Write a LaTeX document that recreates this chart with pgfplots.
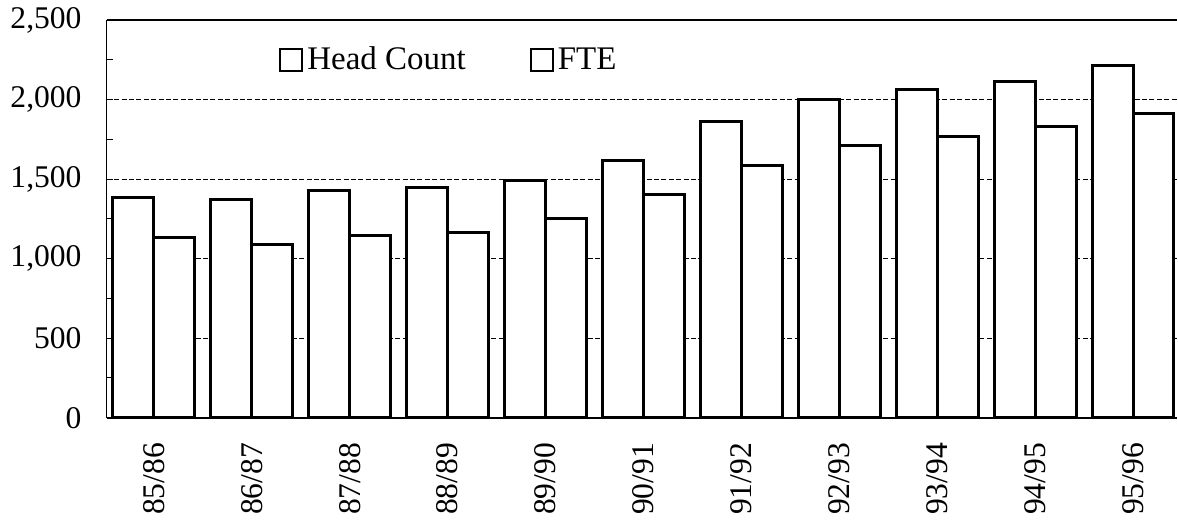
\documentclass[border=0pt]{standalone}
\usepackage{pgfplots}
\pgfplotsset{compat=1.18}
\usepackage{fontspec}
\setmainfont{Liberation Serif}
\begin{document}
\begin{tikzpicture}
\begin{axis}[
  scale only axis,
  width=535.5pt, height=199pt,
  xmin=-0.4796, xmax=10.449,
  ymin=0, ymax=2500,
  axis x line*=bottom, axis y line*=left,
  x axis line style={line width=1pt},
  y axis line style={line width=0.5pt},
  xtick={0,...,10},
  xticklabels={85/86,86/87,87/88,88/89,89/90,90/91,91/92,92/93,93/94,94/95,95/96},
  xtick style={draw=none},
  xticklabel style={rotate=90, anchor=east, inner sep=0pt},
  xticklabel shift=12.5pt,
  ytick={0,500,1000,1500,2000,2500},
  minor ytick={250,750,1250,1750,2250},
  tick align=inside,
  major tick length=3pt, minor tick length=3pt,
  tick style={black, line width=0.5pt},
  yticklabel style={anchor=east, inner sep=0pt},
  yticklabel shift=12.5pt,
  ticklabel style={font=\fontsize{15.8}{18}\selectfont},
  /pgf/number format/.cd, 1000 sep={,}, assume math mode=true,
  /pgfplots/.cd,
  ymajorgrids,
  major grid style={dashed, dash pattern=on 2.5pt off 1.2pt, black, line width=0.5pt},
  clip=false,
  legend columns=2,
  legend style={draw=none, fill=none, at={(rel axis cs:0.1606,0.8995)}, anchor=west,
    inner sep=0pt, font=\fontsize{16.5}{19}\selectfont,
    /tikz/every even column/.append style={column sep=30pt}},
  legend image code/.code={\draw[line width=1.1pt, fill=white] (0pt,-5.5pt) rectangle (11pt,5.5pt);},
]
\path (rel axis cs:-0.0999,-0.2638) rectangle (rel axis cs:1,1.0503);
\draw[black, line width=0.9pt] (rel axis cs:0,1) -- (rel axis cs:1,1);
\addplot[ybar, bar width=0.418, bar shift=-0.209, draw=black, fill=white, line width=1.5pt]
  coordinates {(0,1383) (1,1370) (2,1428) (3,1444) (4,1488) (5,1615) (6,1860) (7,2000) (8,2062) (9,2115) (10,2215)};
\addlegendentry{Head Count}
\addplot[ybar, bar width=0.418, bar shift=0.209, draw=black, fill=white, line width=1.5pt]
  coordinates {(0,1132) (1,1088) (2,1148) (3,1166) (4,1252) (5,1400) (6,1585) (7,1710) (8,1765) (9,1828) (10,1915)};
\addlegendentry{FTE}
\end{axis}
\end{tikzpicture}
\end{document}
